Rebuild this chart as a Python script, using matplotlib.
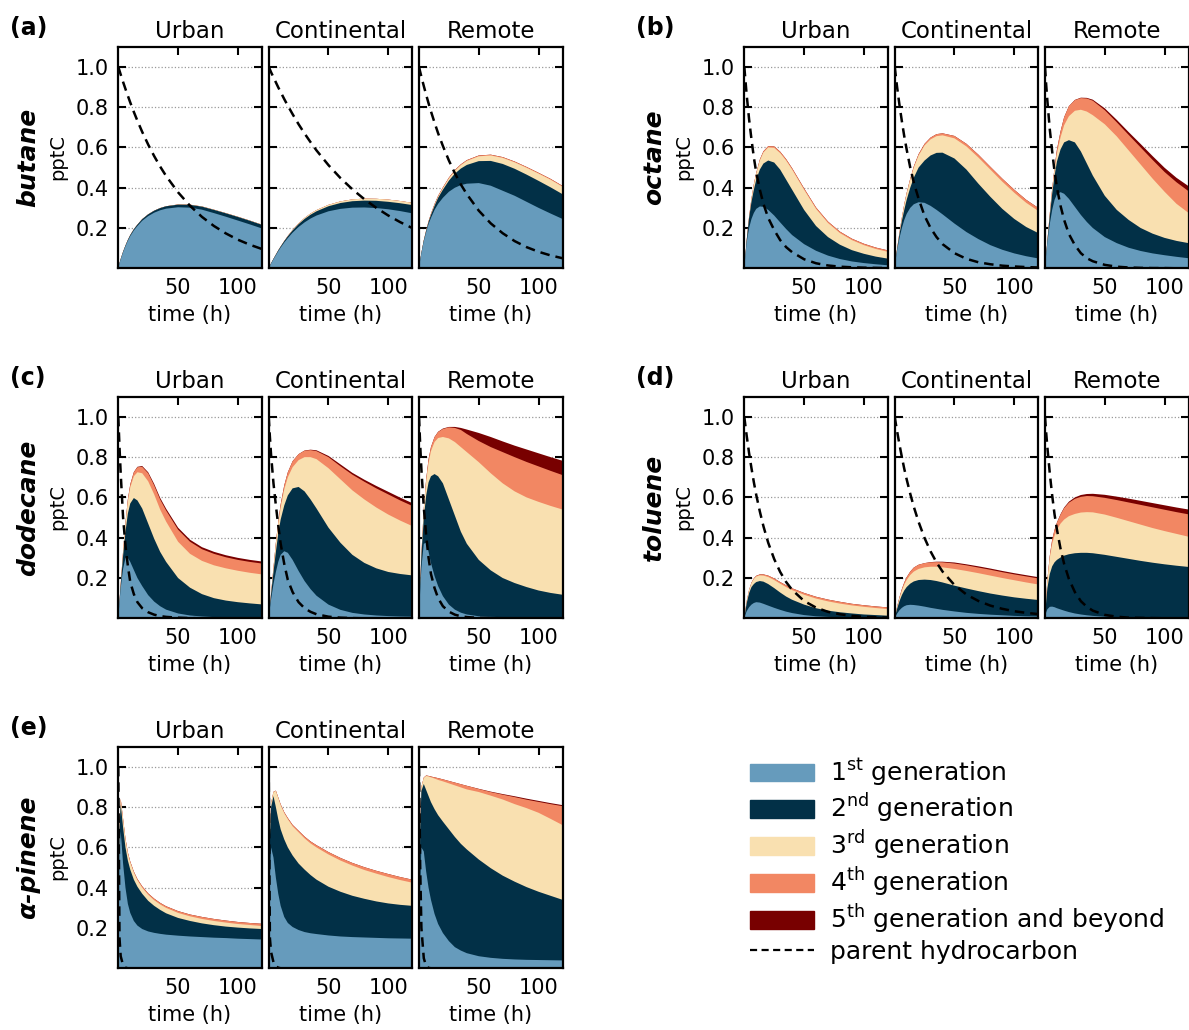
import numpy as np
import matplotlib.pyplot as plt
from matplotlib.patches import Patch
from matplotlib.lines import Line2D

T = [0, 1, 2, 4, 6, 8, 10, 13, 16, 20, 25, 30, 35, 40, 50, 60, 70, 80, 90, 100, 110, 120]

# each gN list is the upper edge of the Nth generation layer (cumulative, pptC)
# ---- butane ----
but_urb_g1 = [0, 0.025, 0.045, 0.08, 0.11, 0.137, 0.16, 0.188, 0.21, 0.236, 0.259, 0.276, 0.288, 0.296, 0.303, 0.301, 0.291, 0.274, 0.256, 0.237, 0.218, 0.198]
but_urb_g2 = [0, 0.025, 0.046, 0.082, 0.113, 0.141, 0.165, 0.194, 0.217, 0.244, 0.268, 0.286, 0.299, 0.308, 0.316, 0.315, 0.306, 0.29, 0.273, 0.255, 0.236, 0.216]
but_urb_g3 = [0, 0.025, 0.046, 0.082, 0.113, 0.141, 0.165, 0.194, 0.217, 0.244, 0.268, 0.286, 0.299, 0.308, 0.317, 0.316, 0.307, 0.291, 0.274, 0.256, 0.237, 0.217]
but_urb_g4 = but_urb_g3
but_urb_g5 = but_urb_g3
but_urb_par = [1.0, 0.981, 0.962, 0.925, 0.89, 0.856, 0.823, 0.776, 0.732, 0.677, 0.614, 0.557, 0.505, 0.458, 0.377, 0.31, 0.255, 0.21, 0.173, 0.142, 0.117, 0.096]

but_con_g1 = [0, 0.012, 0.024, 0.045, 0.065, 0.085, 0.103, 0.128, 0.15, 0.177, 0.205, 0.228, 0.247, 0.262, 0.283, 0.295, 0.301, 0.302, 0.299, 0.293, 0.284, 0.273]
but_con_g2 = [0, 0.012, 0.025, 0.047, 0.068, 0.089, 0.108, 0.135, 0.159, 0.188, 0.219, 0.245, 0.266, 0.283, 0.308, 0.324, 0.333, 0.336, 0.335, 0.33, 0.323, 0.314]
but_con_g3 = [0, 0.012, 0.025, 0.047, 0.068, 0.089, 0.108, 0.135, 0.161, 0.191, 0.223, 0.25, 0.272, 0.289, 0.315, 0.332, 0.342, 0.346, 0.345, 0.341, 0.334, 0.325]
but_con_g4 = but_con_g3
but_con_g5 = but_con_g3
but_con_par = [1.0, 0.987, 0.973, 0.948, 0.923, 0.898, 0.875, 0.84, 0.807, 0.765, 0.715, 0.669, 0.626, 0.585, 0.512, 0.448, 0.392, 0.343, 0.30, 0.262, 0.229, 0.20]

but_rem_g1 = [0, 0.04, 0.075, 0.135, 0.18, 0.22, 0.25, 0.29, 0.32, 0.35, 0.38, 0.40, 0.413, 0.42, 0.423, 0.41, 0.385, 0.36, 0.33, 0.30, 0.272, 0.245]
but_rem_g2 = [0, 0.04, 0.076, 0.138, 0.186, 0.23, 0.265, 0.31, 0.35, 0.39, 0.435, 0.47, 0.495, 0.513, 0.532, 0.533, 0.518, 0.494, 0.465, 0.434, 0.402, 0.368]
but_rem_g3 = [0, 0.04, 0.076, 0.139, 0.188, 0.232, 0.268, 0.315, 0.356, 0.398, 0.446, 0.484, 0.512, 0.533, 0.556, 0.56, 0.548, 0.526, 0.499, 0.47, 0.44, 0.405]
but_rem_g4 = [0, 0.04, 0.076, 0.139, 0.189, 0.234, 0.271, 0.319, 0.36, 0.402, 0.45, 0.488, 0.516, 0.537, 0.56, 0.564, 0.552, 0.53, 0.503, 0.474, 0.444, 0.409]
but_rem_g5 = but_rem_g4
but_rem_par = [1.0, 0.975, 0.951, 0.905, 0.861, 0.819, 0.779, 0.723, 0.67, 0.607, 0.535, 0.472, 0.416, 0.368, 0.286, 0.223, 0.174, 0.135, 0.105, 0.082, 0.064, 0.05]

# ---- octane ----
oct_urb_g1 = [0, 0.07, 0.13, 0.2, 0.245, 0.275, 0.295, 0.307, 0.305, 0.29, 0.262, 0.228, 0.195, 0.165, 0.12, 0.087, 0.063, 0.046, 0.034, 0.026, 0.02, 0.015]
oct_urb_g2 = [0, 0.07, 0.14, 0.25, 0.33, 0.39, 0.44, 0.49, 0.52, 0.535, 0.525, 0.49, 0.44, 0.39, 0.29, 0.21, 0.155, 0.117, 0.09, 0.072, 0.058, 0.048]
oct_urb_g3 = [0, 0.07, 0.14, 0.255, 0.345, 0.415, 0.47, 0.535, 0.575, 0.6, 0.598, 0.572, 0.535, 0.49, 0.39, 0.295, 0.225, 0.175, 0.14, 0.115, 0.096, 0.082]
oct_urb_g4 = [0, 0.07, 0.14, 0.256, 0.347, 0.418, 0.474, 0.54, 0.581, 0.606, 0.605, 0.579, 0.542, 0.497, 0.397, 0.302, 0.232, 0.182, 0.147, 0.122, 0.103, 0.089]
oct_urb_g5 = oct_urb_g4
oct_urb_par = [1.0, 0.93, 0.86, 0.74, 0.64, 0.55, 0.475, 0.39, 0.32, 0.25, 0.19, 0.14, 0.105, 0.08, 0.045, 0.025, 0.014, 0.008, 0.005, 0.003, 0.002, 0.001]

oct_con_g1 = [0, 0.05, 0.09, 0.15, 0.2, 0.24, 0.27, 0.3, 0.318, 0.328, 0.325, 0.31, 0.29, 0.268, 0.222, 0.18, 0.145, 0.115, 0.092, 0.074, 0.06, 0.049]
oct_con_g2 = [0, 0.05, 0.095, 0.17, 0.235, 0.29, 0.34, 0.4, 0.45, 0.5, 0.535, 0.56, 0.573, 0.574, 0.545, 0.49, 0.42, 0.355, 0.295, 0.245, 0.205, 0.175]
oct_con_g3 = [0, 0.05, 0.097, 0.178, 0.25, 0.315, 0.37, 0.44, 0.5, 0.56, 0.61, 0.64, 0.656, 0.66, 0.645, 0.605, 0.55, 0.49, 0.43, 0.375, 0.325, 0.285]
oct_con_g4 = [0, 0.05, 0.097, 0.179, 0.252, 0.318, 0.374, 0.445, 0.506, 0.567, 0.618, 0.649, 0.666, 0.67, 0.657, 0.618, 0.564, 0.504, 0.445, 0.39, 0.34, 0.3]
oct_con_g5 = oct_con_g4
oct_con_par = [1.0, 0.95, 0.9, 0.81, 0.73, 0.655, 0.59, 0.5, 0.425, 0.345, 0.26, 0.2, 0.155, 0.12, 0.075, 0.047, 0.03, 0.02, 0.013, 0.009, 0.006, 0.004]

oct_rem_g1 = [0, 0.07, 0.13, 0.22, 0.29, 0.34, 0.368, 0.378, 0.37, 0.345, 0.305, 0.265, 0.23, 0.2, 0.155, 0.125, 0.102, 0.086, 0.074, 0.065, 0.057, 0.05]
oct_rem_g2 = [0, 0.07, 0.135, 0.26, 0.37, 0.46, 0.53, 0.59, 0.625, 0.636, 0.625, 0.58, 0.52, 0.46, 0.36, 0.29, 0.24, 0.2, 0.172, 0.151, 0.136, 0.125]
oct_rem_g3 = [0, 0.07, 0.137, 0.27, 0.39, 0.49, 0.57, 0.65, 0.71, 0.755, 0.782, 0.787, 0.778, 0.76, 0.715, 0.655, 0.585, 0.515, 0.445, 0.38, 0.32, 0.275]
oct_rem_g4 = [0, 0.07, 0.137, 0.272, 0.395, 0.5, 0.59, 0.68, 0.75, 0.805, 0.835, 0.845, 0.843, 0.832, 0.785, 0.725, 0.662, 0.6, 0.538, 0.478, 0.427, 0.383]
oct_rem_g5 = [0, 0.07, 0.137, 0.272, 0.395, 0.5, 0.59, 0.68, 0.75, 0.805, 0.836, 0.847, 0.846, 0.837, 0.794, 0.737, 0.676, 0.617, 0.557, 0.499, 0.449, 0.408]
oct_rem_par = [1.0, 0.91, 0.83, 0.69, 0.58, 0.48, 0.4, 0.31, 0.24, 0.17, 0.115, 0.075, 0.05, 0.035, 0.017, 0.008, 0.004, 0.002, 0.001, 0.001, 0.0, 0.0]

# ---- dodecane ----
dod_urb_g1 = [0, 0.08, 0.15, 0.245, 0.3, 0.3, 0.28, 0.24, 0.2, 0.16, 0.115, 0.083, 0.06, 0.043, 0.024, 0.014, 0.009, 0.006, 0.005, 0.004, 0.003, 0.003]
dod_urb_g2 = [0, 0.085, 0.165, 0.31, 0.43, 0.52, 0.57, 0.597, 0.585, 0.545, 0.47, 0.395, 0.33, 0.28, 0.2, 0.152, 0.12, 0.1, 0.088, 0.08, 0.074, 0.069]
dod_urb_g3 = [0, 0.085, 0.17, 0.33, 0.47, 0.58, 0.65, 0.705, 0.725, 0.72, 0.68, 0.615, 0.54, 0.48, 0.38, 0.32, 0.285, 0.263, 0.248, 0.236, 0.226, 0.218]
dod_urb_g4 = [0, 0.085, 0.17, 0.332, 0.475, 0.59, 0.665, 0.725, 0.75, 0.752, 0.72, 0.66, 0.59, 0.535, 0.44, 0.38, 0.343, 0.32, 0.303, 0.29, 0.28, 0.272]
dod_urb_g5 = [0, 0.085, 0.17, 0.332, 0.475, 0.59, 0.665, 0.726, 0.752, 0.756, 0.725, 0.667, 0.598, 0.544, 0.45, 0.39, 0.353, 0.33, 0.313, 0.3, 0.29, 0.282]
dod_urb_par = [1.0, 0.85, 0.72, 0.5, 0.36, 0.26, 0.18, 0.12, 0.08, 0.05, 0.03, 0.018, 0.011, 0.007, 0.003, 0.001, 0.0, 0.0, 0.0, 0.0, 0.0, 0.0]

dod_con_g1 = [0, 0.05, 0.095, 0.17, 0.23, 0.28, 0.315, 0.333, 0.325, 0.29, 0.235, 0.185, 0.145, 0.112, 0.068, 0.042, 0.027, 0.019, 0.014, 0.011, 0.009, 0.008]
dod_con_g2 = [0, 0.06, 0.12, 0.23, 0.33, 0.42, 0.49, 0.56, 0.61, 0.645, 0.652, 0.63, 0.59, 0.545, 0.45, 0.375, 0.315, 0.275, 0.248, 0.23, 0.22, 0.213]
dod_con_g3 = [0, 0.06, 0.125, 0.25, 0.37, 0.47, 0.55, 0.64, 0.7, 0.75, 0.785, 0.8, 0.8, 0.79, 0.745, 0.69, 0.635, 0.59, 0.55, 0.515, 0.485, 0.458]
dod_con_g4 = [0, 0.06, 0.125, 0.252, 0.375, 0.48, 0.565, 0.66, 0.725, 0.78, 0.815, 0.832, 0.835, 0.83, 0.8, 0.755, 0.713, 0.678, 0.645, 0.615, 0.585, 0.558]
dod_con_g5 = [0, 0.06, 0.125, 0.252, 0.375, 0.48, 0.565, 0.66, 0.725, 0.78, 0.815, 0.833, 0.837, 0.834, 0.806, 0.764, 0.722, 0.688, 0.657, 0.628, 0.599, 0.572]
dod_con_par = [1.0, 0.9, 0.81, 0.67, 0.56, 0.46, 0.37, 0.27, 0.19, 0.13, 0.08, 0.05, 0.032, 0.02, 0.008, 0.003, 0.001, 0.0, 0.0, 0.0, 0.0, 0.0]

dod_rem_g1 = [0, 0.14, 0.25, 0.37, 0.375, 0.33, 0.275, 0.21, 0.16, 0.11, 0.068, 0.043, 0.028, 0.019, 0.01, 0.007, 0.006, 0.005, 0.005, 0.005, 0.005, 0.005]
dod_rem_g2 = [0, 0.17, 0.31, 0.5, 0.61, 0.675, 0.705, 0.716, 0.705, 0.67, 0.59, 0.51, 0.43, 0.37, 0.29, 0.238, 0.2, 0.175, 0.155, 0.138, 0.126, 0.117]
dod_rem_g3 = [0, 0.17, 0.32, 0.54, 0.68, 0.77, 0.83, 0.875, 0.895, 0.9, 0.893, 0.875, 0.85, 0.825, 0.775, 0.72, 0.67, 0.63, 0.6, 0.578, 0.558, 0.54]
dod_rem_g4 = [0, 0.17, 0.32, 0.545, 0.69, 0.79, 0.85, 0.9, 0.925, 0.94, 0.948, 0.945, 0.935, 0.915, 0.88, 0.85, 0.825, 0.8, 0.776, 0.754, 0.732, 0.711]
dod_rem_g5 = [0, 0.17, 0.32, 0.545, 0.69, 0.79, 0.85, 0.9, 0.926, 0.942, 0.95, 0.95, 0.945, 0.937, 0.92, 0.9, 0.878, 0.857, 0.838, 0.819, 0.8, 0.782]
dod_rem_par = [1.0, 0.86, 0.74, 0.55, 0.41, 0.3, 0.22, 0.15, 0.1, 0.06, 0.033, 0.018, 0.01, 0.006, 0.002, 0.001, 0.0, 0.0, 0.0, 0.0, 0.0, 0.0]

# ---- toluene ----
tol_urb_g1 = [0, 0.02, 0.035, 0.055, 0.068, 0.076, 0.08, 0.078, 0.072, 0.063, 0.052, 0.042, 0.033, 0.026, 0.016, 0.01, 0.007, 0.005, 0.004, 0.003, 0.003, 0.002]
tol_urb_g2 = [0, 0.04, 0.075, 0.125, 0.155, 0.17, 0.18, 0.185, 0.182, 0.17, 0.15, 0.128, 0.108, 0.092, 0.068, 0.05, 0.038, 0.03, 0.024, 0.019, 0.016, 0.013]
tol_urb_g3 = [0, 0.045, 0.085, 0.14, 0.175, 0.195, 0.207, 0.213, 0.212, 0.205, 0.19, 0.172, 0.155, 0.14, 0.117, 0.098, 0.084, 0.073, 0.064, 0.057, 0.051, 0.046]
tol_urb_g4 = [0, 0.045, 0.085, 0.141, 0.177, 0.198, 0.211, 0.218, 0.218, 0.212, 0.198, 0.18, 0.164, 0.149, 0.126, 0.107, 0.093, 0.082, 0.072, 0.065, 0.059, 0.054]
tol_urb_g5 = tol_urb_g4
tol_urb_par = [1.0, 0.952, 0.906, 0.82, 0.745, 0.675, 0.612, 0.53, 0.457, 0.375, 0.294, 0.23, 0.18, 0.141, 0.086, 0.053, 0.032, 0.02, 0.012, 0.007, 0.005, 0.003]

tol_con_g1 = [0, 0.012, 0.023, 0.04, 0.052, 0.06, 0.065, 0.067, 0.066, 0.063, 0.058, 0.052, 0.047, 0.042, 0.034, 0.027, 0.022, 0.018, 0.015, 0.012, 0.01, 0.009]
tol_con_g2 = [0, 0.025, 0.047, 0.085, 0.115, 0.138, 0.155, 0.172, 0.183, 0.19, 0.192, 0.19, 0.185, 0.178, 0.162, 0.148, 0.135, 0.123, 0.113, 0.104, 0.097, 0.091]
tol_con_g3 = [0, 0.028, 0.055, 0.1, 0.137, 0.167, 0.19, 0.215, 0.232, 0.245, 0.253, 0.256, 0.256, 0.253, 0.245, 0.235, 0.224, 0.212, 0.2, 0.189, 0.178, 0.168]
tol_con_g4 = [0, 0.029, 0.057, 0.105, 0.145, 0.178, 0.204, 0.232, 0.252, 0.266, 0.274, 0.278, 0.279, 0.278, 0.272, 0.263, 0.252, 0.241, 0.229, 0.218, 0.208, 0.198]
tol_con_g5 = [0, 0.029, 0.057, 0.105, 0.145, 0.178, 0.204, 0.232, 0.252, 0.266, 0.274, 0.279, 0.281, 0.281, 0.277, 0.268, 0.258, 0.247, 0.235, 0.224, 0.214, 0.204]
tol_con_par = [1.0, 0.964, 0.929, 0.862, 0.8, 0.742, 0.69, 0.618, 0.553, 0.478, 0.398, 0.332, 0.277, 0.232, 0.165, 0.118, 0.086, 0.063, 0.047, 0.035, 0.027, 0.021]

tol_rem_g1 = [0, 0.03, 0.045, 0.057, 0.058, 0.055, 0.05, 0.044, 0.038, 0.031, 0.024, 0.019, 0.015, 0.012, 0.008, 0.006, 0.005, 0.004, 0.004, 0.003, 0.003, 0.003]
tol_rem_g2 = [0, 0.085, 0.15, 0.22, 0.258, 0.278, 0.29, 0.302, 0.311, 0.318, 0.323, 0.325, 0.325, 0.323, 0.315, 0.305, 0.295, 0.285, 0.276, 0.268, 0.261, 0.255]
tol_rem_g3 = [0, 0.1, 0.19, 0.3, 0.37, 0.41, 0.44, 0.47, 0.49, 0.507, 0.518, 0.525, 0.527, 0.526, 0.515, 0.499, 0.482, 0.465, 0.448, 0.433, 0.419, 0.405]
tol_rem_g4 = [0, 0.1, 0.192, 0.31, 0.39, 0.44, 0.475, 0.515, 0.547, 0.574, 0.593, 0.603, 0.607, 0.606, 0.598, 0.587, 0.575, 0.563, 0.551, 0.539, 0.527, 0.516]
tol_rem_g5 = [0, 0.1, 0.192, 0.31, 0.39, 0.44, 0.476, 0.517, 0.55, 0.579, 0.6, 0.612, 0.617, 0.618, 0.613, 0.604, 0.594, 0.583, 0.572, 0.561, 0.55, 0.54]
tol_rem_par = [1.0, 0.92, 0.848, 0.72, 0.61, 0.515, 0.44, 0.345, 0.27, 0.195, 0.13, 0.085, 0.057, 0.038, 0.017, 0.008, 0.003, 0.002, 0.001, 0.0, 0.0, 0.0]

# ---- alpha-pinene ----
pin_urb_g1 = [0, 0.55, 0.68, 0.52, 0.4, 0.32, 0.275, 0.235, 0.212, 0.195, 0.183, 0.176, 0.171, 0.167, 0.162, 0.158, 0.155, 0.152, 0.15, 0.147, 0.145, 0.143]
pin_urb_g2 = [0, 0.7, 0.815, 0.7, 0.6, 0.535, 0.49, 0.44, 0.405, 0.37, 0.335, 0.31, 0.29, 0.273, 0.25, 0.235, 0.223, 0.214, 0.207, 0.202, 0.198, 0.195]
pin_urb_g3 = [0, 0.72, 0.84, 0.74, 0.64, 0.57, 0.525, 0.475, 0.437, 0.4, 0.365, 0.338, 0.317, 0.3, 0.275, 0.258, 0.245, 0.235, 0.227, 0.22, 0.215, 0.21]
pin_urb_g4 = [0, 0.72, 0.842, 0.743, 0.644, 0.575, 0.53, 0.48, 0.443, 0.407, 0.372, 0.346, 0.325, 0.308, 0.284, 0.267, 0.255, 0.245, 0.237, 0.23, 0.225, 0.221]
pin_urb_g5 = pin_urb_g4
pin_urb_par = [1.0, 0.15, 0.06, 0.015, 0.003, 0.0, 0.0, 0.0, 0.0, 0.0, 0.0, 0.0, 0.0, 0.0, 0.0, 0.0, 0.0, 0.0, 0.0, 0.0, 0.0, 0.0]

pin_con_g1 = [0, 0.45, 0.6, 0.55, 0.45, 0.37, 0.31, 0.255, 0.225, 0.205, 0.19, 0.18, 0.174, 0.17, 0.163, 0.158, 0.155, 0.153, 0.151, 0.149, 0.148, 0.147]
pin_con_g2 = [0, 0.65, 0.8, 0.855, 0.8, 0.74, 0.69, 0.64, 0.6, 0.56, 0.52, 0.49, 0.463, 0.44, 0.405, 0.38, 0.36, 0.345, 0.332, 0.322, 0.315, 0.31]
pin_con_g3 = [0, 0.66, 0.82, 0.875, 0.88, 0.845, 0.81, 0.77, 0.74, 0.705, 0.675, 0.645, 0.62, 0.6, 0.565, 0.535, 0.51, 0.488, 0.47, 0.453, 0.438, 0.425]
pin_con_g4 = [0, 0.66, 0.82, 0.876, 0.882, 0.848, 0.814, 0.775, 0.746, 0.712, 0.683, 0.654, 0.63, 0.611, 0.577, 0.548, 0.523, 0.502, 0.484, 0.468, 0.453, 0.44]
pin_con_g5 = pin_con_g4
pin_con_par = [1.0, 0.15, 0.08, 0.03, 0.01, 0.003, 0.0, 0.0, 0.0, 0.0, 0.0, 0.0, 0.0, 0.0, 0.0, 0.0, 0.0, 0.0, 0.0, 0.0, 0.0, 0.0]

pin_rem_g1 = [0, 0.4, 0.6, 0.58, 0.48, 0.4, 0.34, 0.27, 0.22, 0.175, 0.135, 0.105, 0.088, 0.075, 0.06, 0.052, 0.047, 0.044, 0.042, 0.041, 0.04, 0.039]
pin_rem_g2 = [0, 0.7, 0.88, 0.915, 0.885, 0.855, 0.825, 0.79, 0.76, 0.728, 0.69, 0.652, 0.618, 0.59, 0.54, 0.497, 0.46, 0.43, 0.403, 0.38, 0.36, 0.34]
pin_rem_g3 = [0, 0.71, 0.9, 0.945, 0.955, 0.952, 0.948, 0.942, 0.935, 0.928, 0.918, 0.908, 0.898, 0.888, 0.875, 0.857, 0.838, 0.815, 0.795, 0.772, 0.742, 0.711]
pin_rem_g4 = [0, 0.71, 0.9, 0.947, 0.957, 0.955, 0.952, 0.948, 0.944, 0.938, 0.93, 0.922, 0.914, 0.906, 0.89, 0.875, 0.862, 0.85, 0.837, 0.826, 0.815, 0.805]
pin_rem_g5 = [0, 0.71, 0.9, 0.947, 0.957, 0.955, 0.952, 0.948, 0.944, 0.938, 0.93, 0.922, 0.914, 0.906, 0.891, 0.877, 0.865, 0.854, 0.842, 0.831, 0.82, 0.81]
pin_rem_par = [1.0, 0.5, 0.2, 0.05, 0.01, 0.002, 0.0, 0.0, 0.0, 0.0, 0.0, 0.0, 0.0, 0.0, 0.0, 0.0, 0.0, 0.0, 0.0, 0.0, 0.0, 0.0]

ENVS = ["Urban", "Continental", "Remote"]
GEN_COLORS = ["#669bbc", "#023047", "#f9e0b0", "#f28763", "#780000"]
GEN_LABELS = ["1$^{\\rm st}$ generation", "2$^{\\rm nd}$ generation", "3$^{\\rm rd}$ generation",
              "4$^{\\rm th}$ generation", "5$^{\\rm th}$ generation and beyond"]

# compound -> (panel letter, column, row, [(layers, parent) per environment])
GROUPS = [
    ("butane", "(a)", 0, 0, [
        ([but_urb_g1, but_urb_g2, but_urb_g3, but_urb_g4, but_urb_g5], but_urb_par),
        ([but_con_g1, but_con_g2, but_con_g3, but_con_g4, but_con_g5], but_con_par),
        ([but_rem_g1, but_rem_g2, but_rem_g3, but_rem_g4, but_rem_g5], but_rem_par)]),
    ("octane", "(b)", 1, 0, [
        ([oct_urb_g1, oct_urb_g2, oct_urb_g3, oct_urb_g4, oct_urb_g5], oct_urb_par),
        ([oct_con_g1, oct_con_g2, oct_con_g3, oct_con_g4, oct_con_g5], oct_con_par),
        ([oct_rem_g1, oct_rem_g2, oct_rem_g3, oct_rem_g4, oct_rem_g5], oct_rem_par)]),
    ("dodecane", "(c)", 0, 1, [
        ([dod_urb_g1, dod_urb_g2, dod_urb_g3, dod_urb_g4, dod_urb_g5], dod_urb_par),
        ([dod_con_g1, dod_con_g2, dod_con_g3, dod_con_g4, dod_con_g5], dod_con_par),
        ([dod_rem_g1, dod_rem_g2, dod_rem_g3, dod_rem_g4, dod_rem_g5], dod_rem_par)]),
    ("toluene", "(d)", 1, 1, [
        ([tol_urb_g1, tol_urb_g2, tol_urb_g3, tol_urb_g4, tol_urb_g5], tol_urb_par),
        ([tol_con_g1, tol_con_g2, tol_con_g3, tol_con_g4, tol_con_g5], tol_con_par),
        ([tol_rem_g1, tol_rem_g2, tol_rem_g3, tol_rem_g4, tol_rem_g5], tol_rem_par)]),
    ("α-pinene", "(e)", 0, 2, [
        ([pin_urb_g1, pin_urb_g2, pin_urb_g3, pin_urb_g4, pin_urb_g5], pin_urb_par),
        ([pin_con_g1, pin_con_g2, pin_con_g3, pin_con_g4, pin_con_g5], pin_con_par),
        ([pin_rem_g1, pin_rem_g2, pin_rem_g3, pin_rem_g4, pin_rem_g5], pin_rem_par)]),
]

# ==============================================================================
# LAYOUT (pixels of a 1189 x 1030 canvas)
# ==============================================================================
W, H = 1189, 1030
AX_W, AX_H = 143.5, 221.6
COL_LEFTS = [[118.3, 268.7, 419.0], [744.3, 894.7, 1045.0]]
ROW_TOPS = [46.7, 396.7, 746.7]
DASH = (0, (3.8, 2.4))

plt.rcParams['font.family'] = ['DejaVu Sans']
fig = plt.figure(figsize=(W / 100, H / 100), dpi=100)


def draw_panel(ax, layers, parent, show_y):
    # paint from the outermost layer down so neighbouring fills leave no seams
    for top, color in reversed(list(zip(layers, GEN_COLORS))):
        ax.fill_between(T, 0, top, facecolor=color, linewidth=0, zorder=2)
    ax.plot(T, parent, color='black', linestyle=DASH, linewidth=1.8, zorder=3)

    ax.set_xlim(0, 120)
    ax.set_ylim(0, 1.1)
    ax.set_xticks([50, 100])
    ax.set_yticks([0.2, 0.4, 0.6, 0.8, 1.0])
    ax.set_axisbelow(True)
    ax.grid(axis='y', linestyle=':', color='#999999', linewidth=0.9)
    ax.tick_params(direction='in', top=True, right=True, length=6, width=1.5,
                   labelsize=15, pad=7)
    if not show_y:
        ax.tick_params(labelleft=False)
    for sp in ax.spines.values():
        sp.set_linewidth(1.6)
    ax.set_xlabel("time (h)", fontsize=15, labelpad=5)


for name, letter, col, row, panels in GROUPS:
    top_px = ROW_TOPS[row]
    for i, (layers, parent) in enumerate(panels):
        left_px = COL_LEFTS[col][i]
        ax = fig.add_axes([left_px / W, 1 - (top_px + AX_H) / H, AX_W / W, AX_H / H])
        draw_panel(ax, layers, parent, show_y=(i == 0))
        ax.set_title(ENVS[i], fontsize=16.5, pad=6)

    x0 = COL_LEFTS[col][0]
    yc = 1 - (top_px + AX_H / 2) / H
    fig.text((x0 - 90) / W, yc, name, rotation=90, ha='center', va='center',
             fontsize=18, fontweight='bold', fontstyle='italic')
    fig.text((x0 - 61) / W, yc, "pptC", rotation=90, ha='center', va='center', fontsize=14)
    fig.text((x0 - 108) / W, 1 - (top_px - 19) / H, letter, ha='left', va='center',
             fontsize=17, fontweight='bold')

# legend
handles = [Patch(facecolor=c, edgecolor=c) for c in GEN_COLORS]
handles.append(Line2D([0], [0], color='black', linestyle=(0, (3.2, 2.0)), linewidth=1.6))
labels = GEN_LABELS + ["parent hydrocarbon"]
fig.legend(handles, labels, loc='upper left', bbox_to_anchor=(750 / W, 1 - 757 / H),
           frameon=False, fontsize=18, handlelength=2.56, handleheight=0.7,
           handletextpad=0.62, labelspacing=0.14, borderpad=0, borderaxespad=0)

fig.savefig("out.png", dpi=100)
